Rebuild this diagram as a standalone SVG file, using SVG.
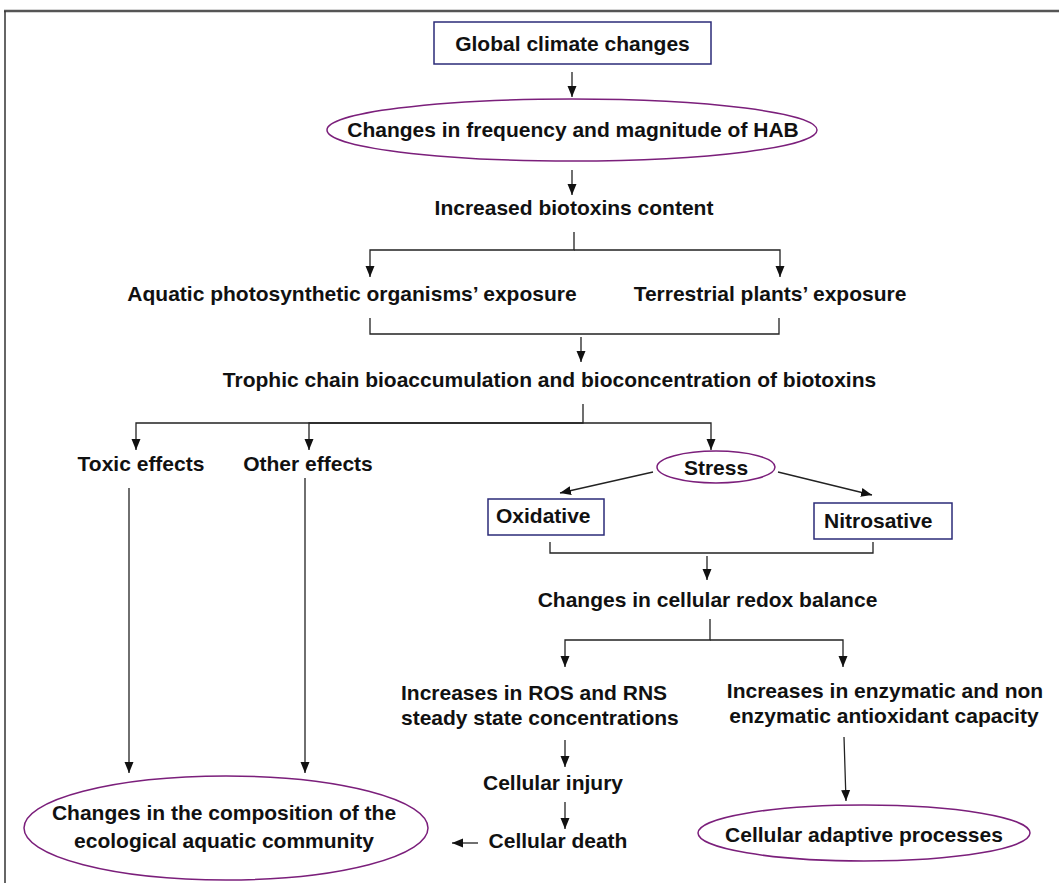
<svg xmlns="http://www.w3.org/2000/svg" width="1059" height="883" viewBox="0 0 1059 883">
<style>
.t{font-family:"Liberation Sans",Arial,Helvetica,sans-serif;font-weight:bold;font-size:21px;fill:#111}
.m{text-anchor:middle}
.box{fill:#fff;stroke:#2b2b78;stroke-width:1.5}
.ell{fill:#fff;stroke:#7b1f7b;stroke-width:1.5}
.c{fill:none;stroke:#222;stroke-width:1.3}
.a{marker-end:url(#ah)}
</style>
<defs>
<marker id="ah" markerUnits="userSpaceOnUse" markerWidth="12" markerHeight="12" viewBox="0 0 12 12" refX="11" refY="6" orient="auto">
<path d="M0,1.5 L11,6 L0,10.5 Z" fill="#111"/>
</marker>
</defs>
<rect width="1059" height="883" fill="#fff"/>
<g id="frame">
<line x1="4" y1="11" x2="1059" y2="11" stroke="#555" stroke-width="2.5"/>
<line x1="5" y1="11" x2="5" y2="883" stroke="#333" stroke-width="1.5"/>
</g>
<g id="connectors">
<path class="c a" d="M572,72 V97"/>
<path class="c a" d="M572,170 V195"/>
<path class="c a" d="M574,232 V250 H370 V277"/>
<path class="c a" d="M574,250 H780 V277"/>
<path class="c" d="M370,318 V334 H779 V318"/>
<path class="c a" d="M581,337 V362"/>
<path class="c a" d="M583,404 V423 H136 V450"/>
<path class="c a" d="M583,423 H309 V450"/>
<path class="c a" d="M583,423 H711 V450"/>
<path class="c a" d="M653,472 L560,493"/>
<path class="c a" d="M778,472 L872,495"/>
<path class="c" d="M550,542 V553 H873 V542"/>
<path class="c a" d="M707,556 V580"/>
<path class="c a" d="M710,619 V640 H565 V667"/>
<path class="c a" d="M710,640 H843 V667"/>
<path class="c a" d="M565,740 V767"/>
<path class="c a" d="M565,802 V829"/>
<path class="c a" d="M478,843 H452"/>
<path class="c a" d="M844,737 L846,801"/>
<path class="c a" d="M129,488 V773"/>
<path class="c a" d="M305,478 V773"/>
</g>
<g id="n-global">
<rect class="box" x="434" y="22" width="277" height="42"/>
<text class="t m" x="572.5" y="51">Global climate changes</text>
</g>
<g id="n-hab">
<ellipse class="ell" cx="572" cy="130" rx="245" ry="31"/>
<text class="t m" x="573" y="137">Changes in frequency and magnitude of HAB</text>
</g>
<g id="n-biotoxins">
<text class="t m" x="574" y="215">Increased biotoxins content</text>
</g>
<g id="n-aquatic">
<text class="t m" x="352" y="301">Aquatic photosynthetic organisms’ exposure</text>
</g>
<g id="n-terrestrial">
<text class="t m" x="770" y="301">Terrestrial plants’ exposure</text>
</g>
<g id="n-trophic">
<text class="t m" x="549.5" y="387">Trophic chain bioaccumulation and bioconcentration of biotoxins</text>
</g>
<g id="n-toxic">
<text class="t m" x="141" y="471">Toxic effects</text>
</g>
<g id="n-other">
<text class="t m" x="308" y="471">Other effects</text>
</g>
<g id="n-stress">
<ellipse class="ell" cx="716" cy="467" rx="59" ry="16"/>
<text class="t m" x="716" y="475">Stress</text>
</g>
<g id="n-oxidative">
<rect class="box" x="488" y="499" width="116" height="36"/>
<text class="t" x="496" y="523">Oxidative</text>
</g>
<g id="n-nitrosative">
<rect class="box" x="814" y="503" width="138" height="36"/>
<text class="t" x="824" y="528">Nitrosative</text>
</g>
<g id="n-redox">
<text class="t m" x="707.5" y="607">Changes in cellular redox balance</text>
</g>
<g id="n-ros">
<text class="t" x="401" y="700">Increases in ROS and RNS</text>
<text class="t" x="401" y="725">steady state concentrations</text>
</g>
<g id="n-antiox">
<text class="t m" x="885" y="698">Increases in enzymatic and non</text>
<text class="t m" x="884" y="723">enzymatic antioxidant capacity</text>
</g>
<g id="n-injury">
<text class="t m" x="553" y="790">Cellular injury</text>
</g>
<g id="n-death">
<text class="t m" x="558" y="848">Cellular death</text>
</g>
<g id="n-community">
<ellipse class="ell" cx="226" cy="828" rx="202" ry="52"/>
<text class="t m" x="224" y="820">Changes in the composition of the</text>
<text class="t m" x="224" y="848">ecological aquatic community</text>
</g>
<g id="n-adaptive">
<ellipse class="ell" cx="864" cy="833" rx="166" ry="28"/>
<text class="t m" x="864" y="842">Cellular adaptive processes</text>
</g>
</svg>
